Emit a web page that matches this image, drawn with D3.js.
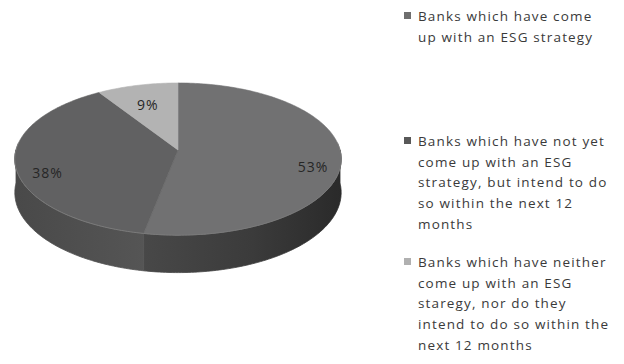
<!DOCTYPE html>
<html>
<head>
<meta charset="utf-8">
<script src="https://cdn.jsdelivr.net/npm/d3@7"></script>
<style>
  html, body { margin: 0; padding: 0; background: #fff; }
  svg { display: block; }
</style>
</head>
<body>
<svg id="chart" width="624" height="364"></svg>
<script>
// Survey answers: share of banks by ESG strategy status
const categories = [
  "Banks which have come up with an ESG strategy",
  "Banks which have not yet come up with an ESG strategy, but intend to do so within the next 12 months",
  "Banks which have neither come up with an ESG staregy, nor do they intend to do so within the next 12 months"
];
const shares = [53, 38, 9];
const valueLabels = ["53%", "38%", "9%"];
const legendLines = [
  ["Banks which have come", "up with an ESG strategy"],
  ["Banks which have not yet", "come up with an ESG", "strategy, but intend to do", "so within the next 12", "months"],
  ["Banks which have neither", "come up with an ESG", "staregy, nor do they", "intend to do so within the", "next 12 months"]
];

const topColors = ["#717172", "#616162", "#b3b3b3"];
const legendColors = ["#6e6e6e", "#585858", "#b0b0b0"];
const sideStops = [
  [["0%", "#484848"], ["55%", "#3b3b3b"], ["100%", "#2a2a2a"]],
  [["0%", "#555555"], ["100%", "#494949"]],
  [["0%", "#8a8a8a"], ["100%", "#8a8a8a"]]
];

const svg = d3.select("#chart");
const defs = svg.append("defs");

// 3D disc geometry with a light perspective (front edge nearer the viewer)
const cx = 178, cy = 150, R = 162, Ry = 75, D = 8.4, depth = 33;
function proj(theta, r, drop) {
  const X = Math.sin(theta) * r, Z = -Math.cos(theta) * r;
  const s = D / (D - Z);
  return [cx + R * X * s, cy + Ry * Z * s + drop * s];
}
function arcPoints(a0, a1, r, drop) {
  const n = Math.max(2, Math.ceil(Math.abs(a1 - a0) / (Math.PI / 180)));
  const step = d3.scaleLinear().domain([0, n]).range([a0, a1]);
  return d3.range(n + 1).map(i => proj(step(i), r, drop));
}

const pie = d3.pie().sort(null).value(d => d);
const arcs = pie(shares);
const line = d3.line().curve(d3.curveLinearClosed);

// Side walls (only the front half of the rim is visible)
arcs.forEach((a, i) => {
  const lo = Math.max(a.startAngle, Math.PI / 2);
  const hi = Math.min(a.endAngle, 3 * Math.PI / 2);
  if (hi <= lo) return;
  const top = arcPoints(lo, hi, 1, 0);
  const bottom = arcPoints(hi, lo, 1, depth);
  const xs = top.map(p => p[0]);
  const g = defs.append("linearGradient")
    .attr("id", "side" + i)
    .attr("gradientUnits", "userSpaceOnUse")
    .attr("x1", i === 0 ? d3.min(xs) : d3.max(xs)).attr("y1", 0)
    .attr("x2", i === 0 ? d3.max(xs) : d3.min(xs)).attr("y2", 0);
  sideStops[i].forEach(s => g.append("stop").attr("offset", s[0]).attr("stop-color", s[1]));
  svg.append("path")
    .attr("d", line(top.concat(bottom)))
    .attr("fill", `url(#side${i})`)
    .attr("stroke", `url(#side${i})`)
    .attr("stroke-width", 0.8);
});

// Top faces
arcs.forEach((a, i) => {
  const pts = [proj(0, 0, 0)].concat(arcPoints(a.startAngle, a.endAngle, 1, 0));
  svg.append("path")
    .attr("d", line(pts))
    .attr("fill", topColors[i])
    .attr("stroke", topColors[i])
    .attr("stroke-width", 0.6);
});

// Soft highlight along the front rim of the top face
svg.append("path")
  .attr("d", d3.line()(arcPoints(Math.PI / 2 - 0.1, 3 * Math.PI / 2 + 0.1, 1, 0)))
  .attr("fill", "none")
  .attr("stroke", "#7a7a7a")
  .attr("stroke-width", 1);

// Value labels
arcs.forEach((a, i) => {
  const mid = (a.startAngle + a.endAngle) / 2;
  const p = proj(mid, 0.83, 10);
  svg.append("text")
    .attr("x", p[0] + (p[0] < cx ? 4 : 0)).attr("y", p[1])
    .attr("text-anchor", "middle")
    .attr("dominant-baseline", "central")
    .attr("font-family", "'Open Sans', sans-serif")
    .attr("font-size", 14)
    .attr("letter-spacing", 1)
    .attr("fill", "#262626")
    .text(valueLabels[i]);
});

// Legend
const legendFirstBaseline = [21, 146, 267];
const lineGap = 20.7;
const legend = svg.append("g");
legendLines.forEach((lines, i) => {
  const y0 = legendFirstBaseline[i];
  legend.append("rect")
    .attr("x", 404).attr("y", y0 - 9)
    .attr("width", 7).attr("height", 7)
    .attr("fill", legendColors[i]);
  const t = legend.append("text")
    .attr("x", 418).attr("y", y0)
    .attr("font-family", "'Open Sans', sans-serif")
    .attr("font-size", 13.5)
    .attr("letter-spacing", 1.15)
    .attr("fill", "#3a3a3a");
  lines.forEach((ln, j) => {
    t.append("tspan").attr("x", 418).attr("y", y0 + j * lineGap).text(ln);
  });
});
</script>
</body>
</html>
